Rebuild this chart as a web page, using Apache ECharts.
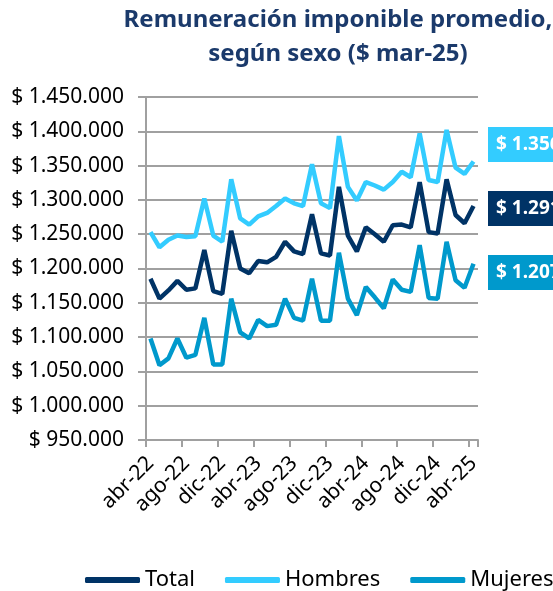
<!DOCTYPE html>
<html>
<head>
<meta charset="utf-8">
<script src="https://cdn.jsdelivr.net/npm/echarts@6/dist/echarts.min.js"></script>
<style>
  html, body { margin: 0; padding: 0; background: #fff; }
  #chart { width: 553px; height: 591px; }
</style>
</head>
<body>
<div id="chart"></div>
<script>
// meses abr-22 .. abr-25
var mesesAbr = ['ene', 'feb', 'mar', 'abr', 'may', 'jun', 'jul', 'ago', 'sep', 'oct', 'nov', 'dic']
var months = []
for (var k = 0; k < 37; k++) {
  var m = (3 + k) % 12
  var y = 22 + Math.floor((3 + k) / 12)
  months.push(mesesAbr[m] + '-' + y)
}

var total = [
  1185000, 1156000, 1168000, 1182000, 1169000, 1171000, 1227000, 1167000, 1163000, 1255000,
  1200000, 1193000, 1211000, 1209000, 1217000, 1239000, 1225000, 1221000, 1279000, 1222000,
  1219000, 1319000, 1248000, 1225000, 1260000, 1250000, 1239000, 1263000, 1264000, 1260000,
  1326000, 1253000, 1251000, 1330000, 1278000, 1266000, 1291000
]
var hombres = [
  1253000, 1231000, 1242000, 1248000, 1246000, 1247000, 1302000, 1248000, 1239000, 1330000,
  1273000, 1264000, 1276000, 1281000, 1291000, 1302000, 1295000, 1291000, 1352000, 1295000,
  1288000, 1393000, 1319000, 1299000, 1326000, 1321000, 1315000, 1326000, 1341000, 1333000,
  1397000, 1329000, 1326000, 1402000, 1347000, 1338000, 1356000
]
var mujeres = [
  1098000, 1059000, 1069000, 1098000, 1070000, 1074000, 1128000, 1060000, 1060000, 1156000,
  1107000, 1098000, 1125000, 1116000, 1118000, 1156000, 1128000, 1124000, 1185000, 1124000,
  1124000, 1223000, 1156000, 1132000, 1173000, 1158000, 1142000, 1184000, 1169000, 1166000,
  1234000, 1157000, 1156000, 1239000, 1183000, 1172000, 1207000
]

var cTotal = '#003366'
var cHombres = '#33ccff'
var cMujeres = '#0099cc'

function fmt (v) {
  return '$ ' + String(Math.round(v)).replace(/\B(?=(\d{3})+(?!\d))/g, '.')
}

var chart = echarts.init(document.getElementById('chart'))
var font = 'Noto Sans'

function boxLabel (top, color, value) {
  return {
    type: 'group',
    left: 488,
    top: top,
    children: [
      {type: 'rect', shape: {x: 0, y: 0, width: 120, height: 35}, style: {fill: color}},
      {type: 'text', x: 8, y: 17.5, style: {text: fmt(value), fill: '#fff', font: 'bold 19px "Noto Sans"', textVerticalAlign: 'middle'}}
    ]
  }
}

chart.setOption({
  animation: false,
  textStyle: {fontFamily: font},
  title: {
    text: 'Remuneración imponible promedio,\nsegún sexo ($ mar-25)',
    left: 333,
    top: -2,
    textAlign: 'center',
    textStyle: {fontSize: 24, fontWeight: 'bold', color: '#1b3a6b', lineHeight: 34, fontFamily: font}
  },
  legend: {
    left: 80,
    top: 564,
    width: 700,
    icon: 'roundRect',
    itemWidth: 55,
    itemHeight: 6,
    itemGap: 30,
    textStyle: {fontSize: 22, color: '#000', fontFamily: font},
    data: ['Total', 'Hombres', 'Mujeres']
  },
  grid: {left: 146, right: 75, top: 97, bottom: 151},
  xAxis: {
    type: 'category',
    data: months,
    boundaryGap: true,
    axisLine: {lineStyle: {color: '#a0a0a0', width: 2}},
    axisTick: {show: true, interval: 3, length: 7, lineStyle: {color: '#a0a0a0', width: 2}},
    axisLabel: {interval: 3, rotate: 45, margin: 20, fontSize: 21, color: '#000', fontFamily: font}
  },
  yAxis: {
    type: 'value',
    min: 950000,
    max: 1450000,
    interval: 50000,
    axisLine: {show: true, lineStyle: {color: '#a0a0a0', width: 2}},
    axisTick: {show: true, length: 8, lineStyle: {color: '#a0a0a0', width: 2}},
    splitLine: {lineStyle: {color: '#a0a0a0', width: 2}},
    axisLabel: {margin: 22, fontSize: 21, color: '#000', fontFamily: font, formatter: fmt}
  },
  series: [
    {name: 'Total', type: 'line', data: total, symbol: 'none', color: cTotal, lineStyle: {width: 4.5, color: cTotal}},
    {name: 'Hombres', type: 'line', data: hombres, symbol: 'none', color: cHombres, lineStyle: {width: 4.5, color: cHombres}},
    {name: 'Mujeres', type: 'line', data: mujeres, symbol: 'none', color: cMujeres, lineStyle: {width: 4.5, color: cMujeres}}
  ],
  graphic: [
    boxLabel(127, cHombres, hombres[hombres.length - 1]),
    boxLabel(191, cTotal, total[total.length - 1]),
    boxLabel(255, cMujeres, mujeres[mujeres.length - 1])
  ]
})
</script>
</body>
</html>
